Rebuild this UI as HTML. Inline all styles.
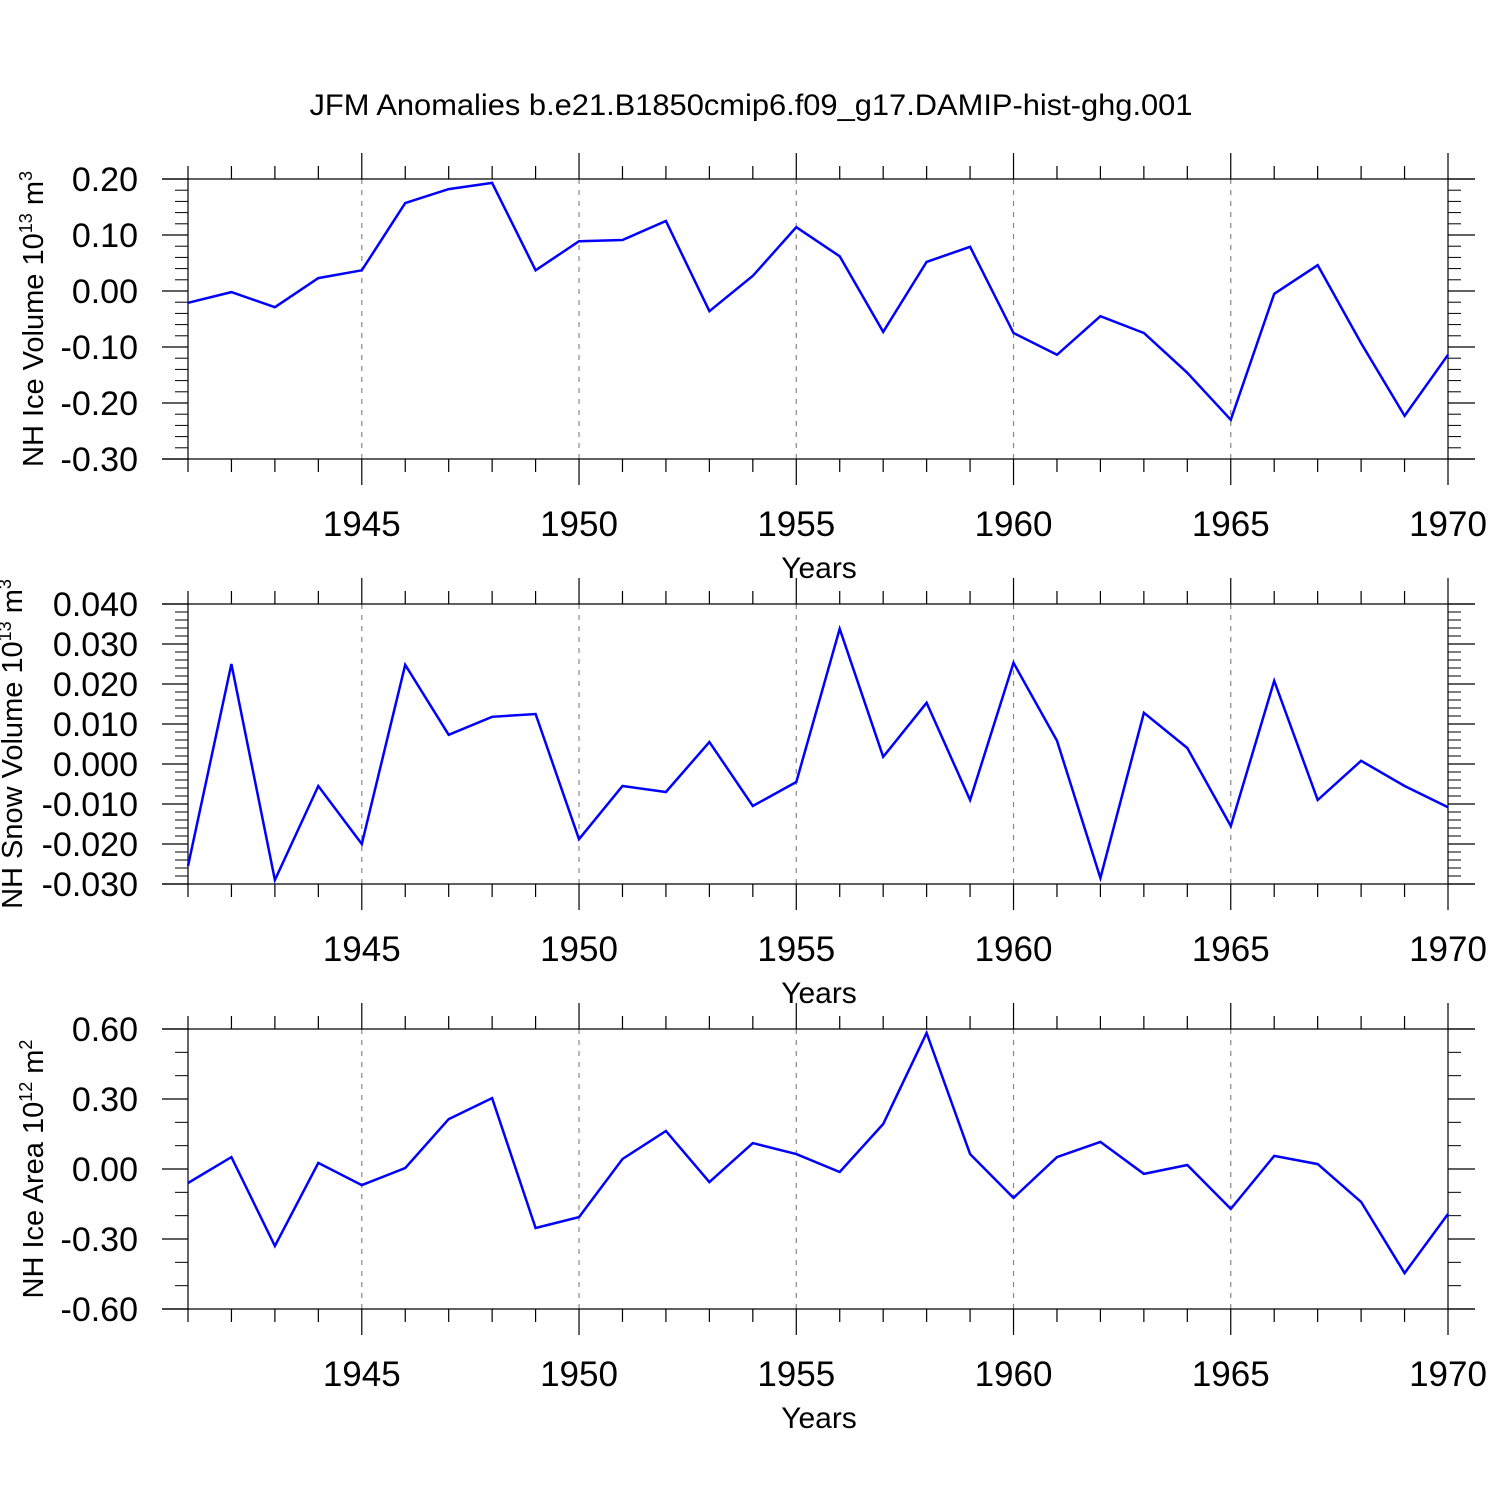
<!DOCTYPE html>
<html><head><meta charset="utf-8"><style>
html,body{margin:0;padding:0;background:#fff}
svg{display:block;font-family:"Liberation Sans",sans-serif}
</style></head><body>
<svg id="chart" width="1500" height="1500" xmlns="http://www.w3.org/2000/svg">
<rect width="1500" height="1500" fill="#fff"/>
<text x="751" y="115" font-size="30" text-anchor="middle" textLength="883" lengthAdjust="spacingAndGlyphs">JFM Anomalies b.e21.B1850cmip6.f09_g17.DAMIP-hist-ghg.001</text>
</svg>
<script>
const years=[1941,1942,1943,1944,1945,1946,1947,1948,1949,1950,1951,1952,1953,1954,1955,1956,1957,1958,1959,1960,1961,1962,1963,1964,1965,1966,1967,1968,1969,1970];
const iceVolume=[-0.021,-0.002,-0.029,0.023,0.037,0.157,0.182,0.193,0.037,0.089,0.091,0.125,-0.036,0.027,0.114,0.062,-0.073,0.052,0.079,-0.075,-0.114,-0.045,-0.075,-0.146,-0.230,-0.005,0.046,-0.093,-0.223,-0.114];
const snowVolume=[-0.0255,0.025,-0.029,-0.0055,-0.020,0.0248,0.0073,0.0118,0.0125,-0.0188,-0.0055,-0.007,0.0055,-0.0105,-0.0045,0.0338,0.0018,0.0153,-0.009,0.0253,0.0058,-0.0285,0.0128,0.004,-0.0155,0.0208,-0.009,0.0008,-0.0055,-0.0108];
const iceArea=[-0.06,0.051,-0.33,0.026,-0.069,0.004,0.214,0.304,-0.253,-0.206,0.043,0.163,-0.056,0.111,0.064,-0.013,0.193,0.583,0.064,-0.124,0.051,0.116,-0.021,0.017,-0.171,0.056,0.021,-0.141,-0.446,-0.193];
const xTickLabels=[1945,1950,1955,1960,1965,1970];
const iceVolTicks=[0.2,0.1,0,-0.1,-0.2,-0.3];
const snowTicks=[0.04,0.03,0.02,0.01,0,-0.01,-0.02,-0.03];
const areaTicks=[0.6,0.3,0,-0.3,-0.6];

const NS="http://www.w3.org/2000/svg";
const svg=document.getElementById('chart');
const X0=188,X1=1448,XMIN=1941,XMAX=1970;
function xs(v){return X0+(v-XMIN)/(XMAX-XMIN)*(X1-X0);}
function mk(tag,attrs,parent){const e=document.createElementNS(NS,tag);for(const k in attrs)e.setAttribute(k,attrs[k]);(parent||svg).appendChild(e);return e;}

const panels=[
 {name:'ice-volume',top:179,bot:459,min:-0.3,max:0.2,ticks:iceVolTicks,dec:2,minor:0.02,data:iceVolume,label:'NH Ice Volume 10',exp:'13',unit:' m',uexp:'3',tx:43,cy:319},
 {name:'snow-volume',top:604,bot:884,min:-0.03,max:0.04,ticks:snowTicks,dec:3,minor:0.002,data:snowVolume,label:'NH Snow Volume 10',exp:'13',unit:' m',uexp:'3',tx:22,cy:744},
 {name:'ice-area',top:1029,bot:1309,min:-0.6,max:0.6,ticks:areaTicks,dec:2,minor:0.1,data:iceArea,label:'NH Ice Area 10',exp:'12',unit:' m',uexp:'2',tx:43,cy:1169}
];
panels.forEach(p=>{
 const g=mk('g',{});
 
 
 const ys=v=>p.bot-(v-p.min)/(p.max-p.min)*(p.bot-p.top);
 const st={stroke:'#000','stroke-width':1.2};
 xTickLabels.slice(0,5).forEach(y=>{
  const l=mk('line',{x1:xs(y),x2:xs(y),y1:p.top,y2:p.bot,stroke:'#888','stroke-width':1.2,'stroke-dasharray':'5,6'},g);
  
  
 });
 mk('line',Object.assign({x1:162,x2:1475,y1:p.top,y2:p.top},st),g);
 mk('line',Object.assign({x1:162,x2:1475,y1:p.bot,y2:p.bot},st),g);
 mk('line',Object.assign({x1:X0,x2:X0,y1:p.top,y2:p.bot},st),g);
 mk('line',Object.assign({x1:X1,x2:X1,y1:p.top,y2:p.bot},st),g);
 years.forEach(y=>{
  const maj=y%5===0, L=maj?26:13;
  mk('line',Object.assign({x1:xs(y),x2:xs(y),y1:p.top-L,y2:p.top},st),g);
  mk('line',Object.assign({x1:xs(y),x2:xs(y),y1:p.bot,y2:p.bot+L},st),g);
 });
 const n=Math.round((p.max-p.min)/p.minor);
 for(let i=0;i<=n;i++){
  const y=ys(p.min+i*p.minor);
  mk('line',{x1:175,x2:X0,y1:y,y2:y,stroke:'#000','stroke-width':1},g);
  mk('line',{x1:X1,x2:1461,y1:y,y2:y,stroke:'#000','stroke-width':1},g);
 }
 p.ticks.forEach(v=>{
  const y=ys(v);
  mk('line',Object.assign({x1:162,x2:X0,y1:y,y2:y},st),g);
  mk('line',Object.assign({x1:X1,x2:1475,y1:y,y2:y},st),g);
  const t=mk('text',{x:138,y:y+12,'font-size':34,'text-anchor':'end'},g);
  t.textContent=v.toFixed(p.dec).replace('-0.000','0.000');
  
  
 });
 xTickLabels.forEach(y=>{
  const t=mk('text',{x:xs(y),y:p.bot+77,'font-size':35,'text-anchor':'middle'},g);
  t.textContent=y;
  
  
 });
 const xt=mk('text',{x:819,y:p.bot+119,'font-size':30,'text-anchor':'middle'},g);
 xt.textContent='Years';
 
 
 const yt=mk('text',{x:0,y:0,'font-size':29,'text-anchor':'middle',transform:`translate(${p.tx},${p.cy}) rotate(-90)`},g);
 
 
 const a=mk('tspan',{},yt);a.textContent=p.label;
 const b=mk('tspan',{'font-size':18,dy:-11},yt);b.textContent=p.exp;
 const c=mk('tspan',{dy:11},yt);c.textContent=p.unit;
 const d=mk('tspan',{'font-size':18,dy:-11},yt);d.textContent=p.uexp;
 const pts=p.data.map((v,i)=>xs(years[i]).toFixed(1)+','+ys(v).toFixed(1)).join(' ');
 const pl=mk('polyline',{points:pts,fill:'none',stroke:'#0000ff','stroke-width':2.5,'stroke-linejoin':'miter'},g);
 
 
});
</script>
</body></html>
